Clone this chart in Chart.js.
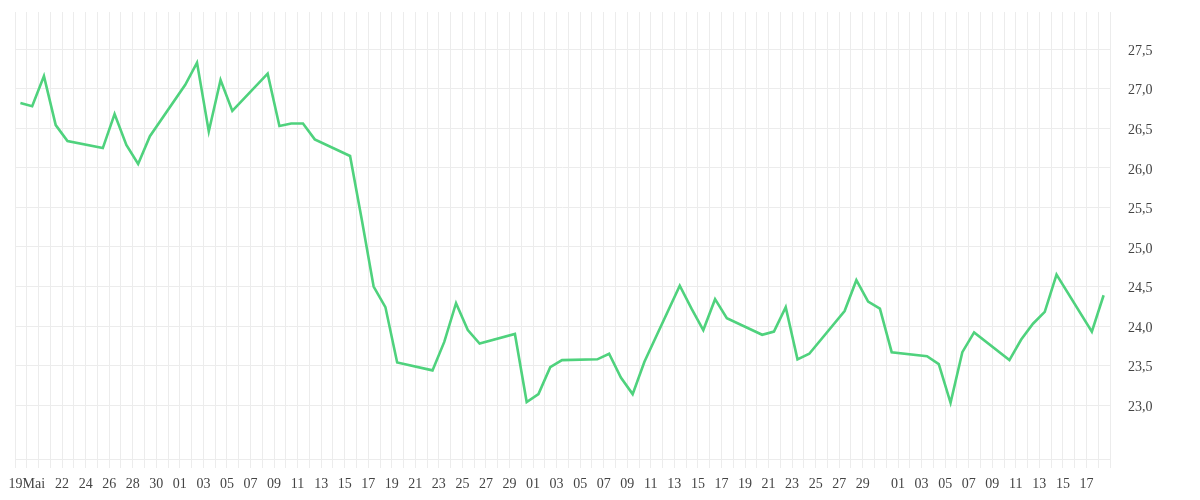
<!DOCTYPE html>
<html lang="de">
<head>
<meta charset="UTF-8">
<title>Kursverlauf</title>
<script src="https://cdn.jsdelivr.net/npm/chart.js@4"></script>
<style>
  html, body { margin: 0; padding: 0; background: #ffffff; }
  .wrap { width: 1200px; height: 500px; position: relative; }
</style>
</head>
<body>
<div class="wrap"><canvas id="chart"></canvas></div>
<script>
// Handelstage (MM-TT, Jahr 2020) und Schlusskurse
const year = 2020;
const dates = [
  '05-18', '05-19', '05-20', '05-21', '05-22',
  '05-25', '05-26', '05-27', '05-28', '05-29',
  '06-01', '06-02', '06-03', '06-04', '06-05',
  '06-08', '06-09', '06-10', '06-11', '06-12',
  '06-15', '06-16', '06-17', '06-18', '06-19',
  '06-22', '06-23', '06-24', '06-25', '06-26',
  '06-29', '06-30', '07-01', '07-02', '07-03',
  '07-06', '07-07', '07-08', '07-09', '07-10',
  '07-13', '07-14', '07-15', '07-16', '07-17',
  '07-20', '07-21', '07-22', '07-23', '07-24',
  '07-27', '07-28', '07-29', '07-30', '07-31',
  '08-03', '08-04', '08-05', '08-06', '08-07',
  '08-10', '08-11', '08-12', '08-13', '08-14',
  '08-17', '08-18'
];
const prices = [
  26.82, 26.78, 27.16, 26.54, 26.34,
  26.25, 26.68, 26.29, 26.05, 26.40,
  27.05, 27.33, 26.46, 27.11, 26.72,
  27.19, 26.53, 26.56, 26.56, 26.36,
  26.15, 25.34, 24.50, 24.24, 23.54,
  23.44, 23.80, 24.29, 23.95, 23.78,
  23.90, 23.04, 23.14, 23.48, 23.57,
  23.58, 23.65, 23.35, 23.14, 23.55,
  24.51, 24.22, 23.95, 24.34, 24.10,
  23.89, 23.93, 24.24, 23.58, 23.65,
  24.19, 24.58, 24.31, 24.22, 23.67,
  23.62, 23.52, 23.03, 23.67, 23.92,
  23.57, 23.83, 24.03, 24.18, 24.65,
  23.93, 24.39
];

// x-Achse: ein Tick pro Kalendertag ab 18. Mai
const startDay = '05-18';
const pointHour = 11;
const tickLabels = [
  '', '19Mai', '', '', '22', '', '24', '', '26', '', '28', '', '30', '',
  '01', '', '03', '', '05', '', '07', '', '09', '', '11', '', '13', '', '15', '',
  '17', '', '19', '', '21', '', '23', '', '25', '', '27', '', '29', '',
  '01', '', '03', '', '05', '', '07', '', '09', '', '11', '', '13', '', '15', '',
  '17', '', '19', '', '21', '', '23', '', '25', '', '27', '', '29', '', '',
  '01', '', '03', '', '05', '', '07', '', '09', '', '11', '', '13', '', '15', '',
  '17', '', ''
];

// y-Achse
const yTicks = [23.0, 23.5, 24.0, 24.5, 25.0, 25.5, 26.0, 26.5, 27.0, 27.5];
const yMin = 22.32;
const yMax = 27.97;

function toUtc(mmdd, hour) {
  const [m, d] = mmdd.split('-').map(Number);
  return Date.UTC(year, m - 1, d, hour || 0);
}
const t0 = toUtc(startDay, 0);
const points = dates.map((d, i) => ({ x: (toUtc(d, pointHour) - t0) / 864e5, y: prices[i] }));

const gridColor = '#ececec';
const textColor = '#444444';
const font = { family: '"Liberation Serif", "DejaVu Serif", serif', size: 14 };

new Chart(document.getElementById('chart'), {
  type: 'line',
  data: {
    datasets: [{
      data: points,
      borderColor: '#4fd27d',
      borderWidth: 2.6,
      pointRadius: 0,
      tension: 0,
      fill: false
    }]
  },
  options: {
    responsive: true,
    maintainAspectRatio: false,
    animation: false,
    layout: { padding: { left: 15, top: 12, right: 0, bottom: 0 } },
    plugins: {
      legend: { display: false },
      tooltip: { enabled: false }
    },
    scales: {
      x: {
        type: 'linear',
        min: 0,
        max: tickLabels.length - 1,
        afterBuildTicks: axis => { axis.ticks = tickLabels.map((_, i) => ({ value: i })); },
        afterFit: axis => {
          axis.height = 41;
          axis.paddingLeft = 0;
          axis.paddingRight = 0;
        },
        grid: { color: gridColor, lineWidth: 1, drawTicks: true, tickLength: 9, tickColor: gridColor },
        border: { display: true, color: gridColor },
        ticks: {
          autoSkip: false,
          maxRotation: 0,
          minRotation: 0,
          padding: 8,
          color: textColor,
          font: font,
          callback: value => tickLabels[value] ?? ''
        }
      },
      y: {
        position: 'right',
        min: yMin,
        max: yMax,
        afterBuildTicks: axis => { axis.ticks = yTicks.map(v => ({ value: v })); },
        afterFit: axis => {
          axis.width = 90;
          axis.paddingTop = 0;
          axis.paddingBottom = 0;
        },
        grid: { color: gridColor, lineWidth: 1, drawTicks: false },
        border: { display: true, color: gridColor },
        ticks: {
          padding: 18,
          labelOffset: 2,
          color: textColor,
          font: font,
          callback: value => Number(value).toFixed(1).replace('.', ',')
        }
      }
    }
  }
});
</script>
</body>
</html>
